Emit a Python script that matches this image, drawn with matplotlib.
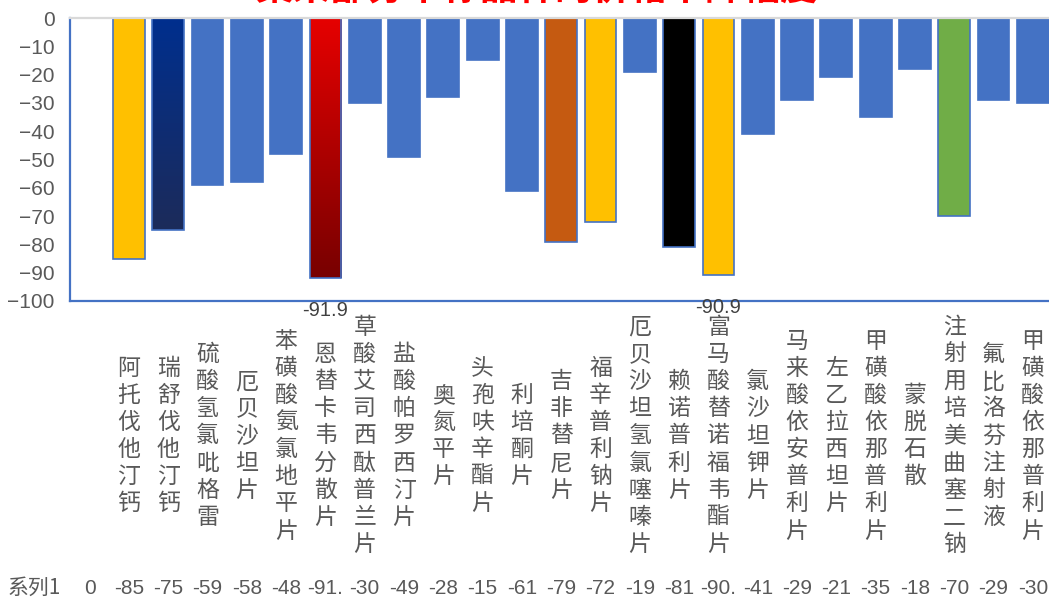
import numpy as np
import matplotlib
matplotlib.use("Agg")
import matplotlib.pyplot as plt
import matplotlib.transforms as mtransforms

plt.rcParams['font.family'] = ['Liberation Sans', 'Noto Sans CJK SC', 'DejaVu Sans']

# data
names = ['', '阿托伐他汀钙', '瑞舒伐他汀钙', '硫酸氢氯吡格雷', '厄贝沙坦片', '苯磺酸氨氯地平片',
         '恩替卡韦分散片', '草酸艾司西酞普兰片', '盐酸帕罗西汀片', '奥氮平片', '头孢呋辛酯片',
         '利培酮片', '吉非替尼片', '福辛普利钠片', '厄贝沙坦氢氯噻嗪片', '赖诺普利片',
         '富马酸替诺福韦酯片', '氯沙坦钾片', '马来酸依安普利片', '左乙拉西坦片', '甲磺酸依那普利片',
         '蒙脱石散', '注射用培美曲塞二钠', '氟比洛芬注射液', '甲磺酸依那普利片']
values = [0, -85, -75, -59, -58, -48, -91.9, -30, -49, -28, -15, -61, -79, -72, -19,
          -81, -90.9, -41, -29, -21, -35, -18, -70, -29, -30]
series_name = '系列1'
labelled = ['恩替卡韦分散片', '富马酸替诺福韦酯片']
title = '集采部分中标品种的价格下降幅度'

# styles
blue = '#4472C4'
fills = {'阿托伐他汀钙': '#FFC000', '瑞舒伐他汀钙': ('#002F8E', '#1C2B5A'),
         '恩替卡韦分散片': ('#E60000', '#780000'), '吉非替尼片': '#C55A11',
         '福辛普利钠片': '#FFC000', '赖诺普利片': '#000000', '富马酸替诺福韦酯片': '#FFC000',
         '注射用培美曲塞二钠': '#70AD47'}
gray = '#595959'

fig = plt.figure(figsize=(10.49, 6), dpi=100)
ax = fig.add_axes([70 / 1049, 1 - 301 / 600, 982.5 / 1049, 283 / 600])

x = np.arange(len(values))
bars = ax.bar(x, values, width=0.81, color=blue, edgecolor=blue, linewidth=1.2, zorder=2)
for b, n in zip(bars, names):
    f = fills.get(n)
    if f is None:
        continue
    if isinstance(f, tuple):
        # vertical gradient fill, clipped to the bar
        b.set_facecolor('none')
        c1 = np.array(matplotlib.colors.to_rgb(f[0]))
        c2 = np.array(matplotlib.colors.to_rgb(f[1]))
        t = np.linspace(0, 1, 100)[:, None]
        grad = (c1 * (1 - t) + c2 * t)[:, None, :]
        x0, w = b.get_x(), b.get_width()
        y1 = b.get_y() + b.get_height()
        im = ax.imshow(grad, extent=[x0, x0 + w, y1, 0], origin='upper', aspect='auto', zorder=1.5)
        im.set_clip_path(b)
    else:
        b.set_facecolor(f)

for n, v, xi in zip(names, values, x):
    if n in labelled:
        ax.text(xi, v - 11.4, f'{v:.1f}', ha='center', va='center', fontsize=14.5,
                color='#404040', clip_on=False)

ax.set_xlim(-0.5, len(values) - 0.5)
ax.set_ylim(-100, 0)
ax.set_yticks(np.arange(-100, 1, 10))
ax.tick_params(axis='y', length=0, pad=11, labelsize=15, labelcolor=gray)
ax.set_xticks([])
for s in ['left', 'bottom', 'right']:
    ax.spines[s].set_color(blue)
    ax.spines[s].set_linewidth(1.6)
ax.spines['top'].set_color('#D9D9D9')
ax.spines['top'].set_linewidth(1.6)

# vertical category labels
tr = mtransforms.blended_transform_factory(ax.transData, fig.transFigure)
for n, xi in zip(names, x):
    if n:
        ax.text(xi, 1 - 436 / 600, '\n'.join(n), transform=tr, ha='center', va='center',
                fontsize=16.5, color=gray, linespacing=1.23, family=['Noto Sans CJK SC'],
                clip_on=False)

# data table row
fig.text(8 / 1049, 1 - 588 / 600, series_name, ha='left', va='center', fontsize=15,
         color=gray, family=['Noto Sans CJK SC', 'Liberation Sans'])
for v, xi in zip(values, x):
    ax.text(xi, 1 - 588 / 600, f'{v:g}'[:4], transform=tr, ha='center', va='center',
            fontsize=15, color=gray, clip_on=False)

fig.text(537 / 1049, 1 - 1 / 600, title, ha='center', va='baseline', fontsize=27,
         color='#FF0000', fontweight='bold', family=['Noto Sans CJK SC'])

fig.savefig('out.png', dpi=100)
